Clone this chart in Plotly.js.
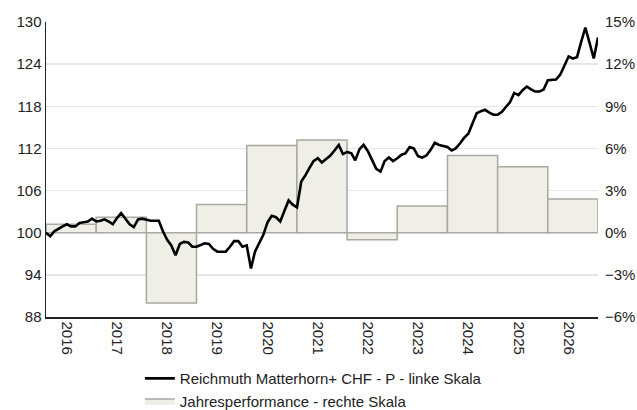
<!DOCTYPE html>
<html>
<head>
<meta charset="utf-8">
<script src="https://cdn.plot.ly/plotly-3.0.1.min.js"></script>
<style>html,body{margin:0;padding:0;background:#fff}#chart{width:637px;height:410px}</style>
</head>
<body>
<div id="chart"></div>
<script>
// Yearly performance bars (right scale, %)
var years = ["2016","2017","2018","2019","2020","2021","2022","2023","2024","2025","2026"];
var yearPerf = [0.6, 1.1, -5.0, 2.0, 6.2, 6.6, -0.5, 1.9, 5.5, 4.7, 2.4];

// Monthly NAV index (left scale), start of Jan 2016 through start of Jan 2027
var startYear = 2016;
var navValues = [
  100.0, 99.5, 100.2, 100.6, 100.9, 101.2, 100.9, 100.9, 101.4, 101.5, 101.6, 102.0,
  101.6, 101.7, 101.9, 101.6, 101.2, 102.1, 102.8, 102.0, 101.2, 100.8, 101.9, 102.0,
  101.8, 101.7, 101.7, 101.7, 100.2, 99.0, 98.2, 96.8, 98.4, 98.7, 98.6, 98.0,
  98.0, 98.3, 98.5, 98.4, 97.7, 97.3, 97.3, 97.3, 98.0, 98.8, 98.8, 98.0,
  98.2, 94.9, 97.3, 98.5, 99.7, 101.5, 102.4, 102.2, 101.6, 103.1, 104.6, 104.0,
  103.6, 107.3, 108.1, 109.2, 110.2, 110.6, 110.0, 110.5, 111.0, 111.7, 112.5, 111.2,
  111.5, 111.3, 110.3, 111.9, 112.5, 111.6, 110.4, 109.1, 108.7, 110.2, 110.7, 110.2,
  110.6, 111.1, 111.3, 112.2, 112.0, 110.9, 110.7, 111.0, 111.8, 112.8, 112.5, 112.3,
  112.2, 111.7, 112.0, 112.7, 113.5, 114.1, 115.4, 117.0, 117.3, 117.5, 117.1, 116.8,
  116.8, 117.2, 117.9, 118.6, 119.9, 119.6, 120.3, 120.8, 120.4, 120.1, 120.1, 120.4,
  121.7, 121.7, 121.8, 122.5, 123.9, 125.1, 124.8, 125.0, 127.2, 129.2, 127.0, 124.8,
  127.8
];

var leftTicks = [88, 94, 100, 106, 112, 118, 124, 130];
var rightTickVals = [-6, -3, 0, 3, 6, 9, 12, 15];
var rightTickText = ["\u22126%", "\u22123%", "0%", "3%", "6%", "9%", "12%", "15%"];

var lineName = "Reichmuth Matterhorn+ CHF - P - linke Skala";
var barName = "Jahresperformance - rechte Skala";

function pad(n){return (n<10?"0":"")+n;}
var navDates = navValues.map(function(v,k){
  var y = startYear + Math.floor(k/12), m = (k%12)+1;
  return y + "-" + pad(m) + "-01";
});
var barDates = years.map(function(y){return y + "-07-02";});
var tickDates = years.map(function(y){return y + "-06-01";});

var FONT = "Liberation Sans, Arial, sans-serif";
var BAR_FILL = "#efeee7", BAR_LINE = "#a9a8a1";

var traces = [
  {
    type: "bar",
    name: barName,
    x: barDates,
    y: yearPerf,
    width: 365*24*3600*1000,
    xaxis: "x",
    yaxis: "y",
    showlegend: false,
    marker: {color: BAR_FILL, line: {color: BAR_LINE, width: 1.5}},
    hoverinfo: "skip"
  },
  {
    // legend-only entry for the bars (wide box symbol)
    type: "scatter",
    mode: "lines",
    name: barName,
    x: [null],
    y: [null],
    xaxis: "x",
    yaxis: "y",
    fill: "toself",
    fillcolor: BAR_FILL,
    line: {color: BAR_LINE, width: 1.5},
    hoverinfo: "skip"
  },
  {
    type: "scatter",
    mode: "lines",
    name: lineName,
    x: navDates,
    y: navValues,
    xaxis: "x",
    yaxis: "y2",
    line: {color: "#000000", width: 2.6},
    hoverinfo: "skip"
  }
];

var layout = {
  width: 637,
  height: 410,
  margin: {l: 46, r: 39, t: 22, b: 93, autoexpand: false},
  paper_bgcolor: "#ffffff",
  plot_bgcolor: "rgba(0,0,0,0)",
  font: {family: FONT, size: 15, color: "#222222"},
  showlegend: true,
  bargap: 0,
  legend: {
    orientation: "v",
    x: 0.170, xanchor: "left",
    y: -0.153, yanchor: "top",
    traceorder: "reversed",
    font: {family: FONT, size: 15, color: "#222222"},
    tracegroupgap: 0,
    itemwidth: 30,
    bgcolor: "rgba(0,0,0,0)"
  },
  xaxis: {
    type: "date",
    range: ["2016-01-01", "2027-01-01"],
    tickvals: tickDates,
    ticktext: years,
    tickangle: 90,
    ticks: "",
    showgrid: false,
    zeroline: false,
    showline: true,
    automargin: false,
    linecolor: "#222222",
    linewidth: 1.5,
    tickfont: {family: FONT, size: 15, color: "#222222"}
  },
  yaxis: {
    side: "right",
    range: [-6, 15],
    tickvals: rightTickVals,
    ticktext: rightTickText,
    showgrid: true,
    gridcolor: "#e6e6e6",
    gridwidth: 1.5,
    zeroline: false,
    showline: false,
    automargin: false,
    ticks: "",
    ticklabelstandoff: 6,
    tickfont: {family: FONT, size: 15, color: "#222222"}
  },
  yaxis2: {
    side: "left",
    overlaying: "y",
    range: [88, 130],
    tickvals: leftTicks,
    showgrid: false,
    zeroline: false,
    showline: true,
    automargin: false,
    linecolor: "#222222",
    linewidth: 1.5,
    ticks: "",
    tickfont: {family: FONT, size: 15, color: "#222222"}
  }
};

Plotly.newPlot("chart", traces, layout, {displayModeBar: false, staticPlot: true});
</script>
</body>
</html>
